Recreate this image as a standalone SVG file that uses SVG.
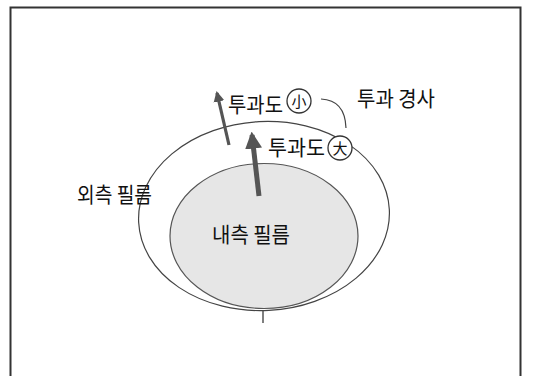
<svg xmlns="http://www.w3.org/2000/svg" width="540" height="376" viewBox="0 0 540 376">
<defs>
<style>
.t{font-family:"Noto Sans CJK KR","Noto Sans",sans-serif;font-size:21px;fill:#111}
.c{font-family:"Noto Sans CJK KR","Noto Sans CJK SC",sans-serif;font-size:15px;fill:#111}
.ring{fill:#fff;stroke:#333;stroke-width:1.3}
.ar{stroke:#555;fill:none;stroke-linecap:butt}
</style>
<marker id="ah" viewBox="0 0 10 10" refX="8" refY="5" markerWidth="3.4" markerHeight="4" orient="auto" markerUnits="strokeWidth">
<path d="M0,0 L10,5 L0,10 z" fill="#555"/>
</marker>
</defs>
<rect width="540" height="376" fill="#fff"/>
<path d="M10.5,380 L10.5,7.5 L520.5,7.5 L520.5,380" fill="none" stroke="#333" stroke-width="2"/>
<g id="outer-film">
<ellipse cx="264" cy="216" rx="125.5" ry="94.5" transform="rotate(-3 264 216)" fill="none" stroke="#444" stroke-width="1.2"/>
<text class="t" x="77" y="202" textLength="75" lengthAdjust="spacingAndGlyphs">외측 필름</text>
</g>
<g id="inner-film">
<ellipse cx="264" cy="236" rx="94" ry="72.5" fill="#e6e6e6" stroke="#555" stroke-width="1.2"/>
<text class="t" x="212" y="242" textLength="78" lengthAdjust="spacingAndGlyphs">내측 필름</text>
</g>
<g id="connectors">
<line class="ar" x1="229" y1="145" x2="217" y2="93" stroke-width="3.2" marker-end="url(#ah)"/>
<line class="ar" x1="259" y1="196" x2="252" y2="135" stroke-width="5" marker-end="url(#ah)"/>
<path d="M321,99 Q345,100 346,128" fill="none" stroke="#444" stroke-width="1.2"/>
<line x1="263" y1="311" x2="263" y2="323" stroke="#555" stroke-width="1.5"/>
</g>
<g id="label-small">
<text class="t" x="228" y="112" textLength="55" lengthAdjust="spacingAndGlyphs">투과도</text>
<circle class="ring" cx="299" cy="101" r="12"/>
<text class="c" x="299" y="106.5" text-anchor="middle">小</text>
</g>
<g id="label-large">
<text class="t" x="268" y="155" textLength="57" lengthAdjust="spacingAndGlyphs">투과도</text>
<circle class="ring" cx="340" cy="148" r="12"/>
<text class="c" x="340" y="153.5" text-anchor="middle">大</text>
</g>
<g id="label-gradient">
<text class="t" x="357" y="106" textLength="78" lengthAdjust="spacingAndGlyphs">투과 경사</text>
</g>
</svg>
